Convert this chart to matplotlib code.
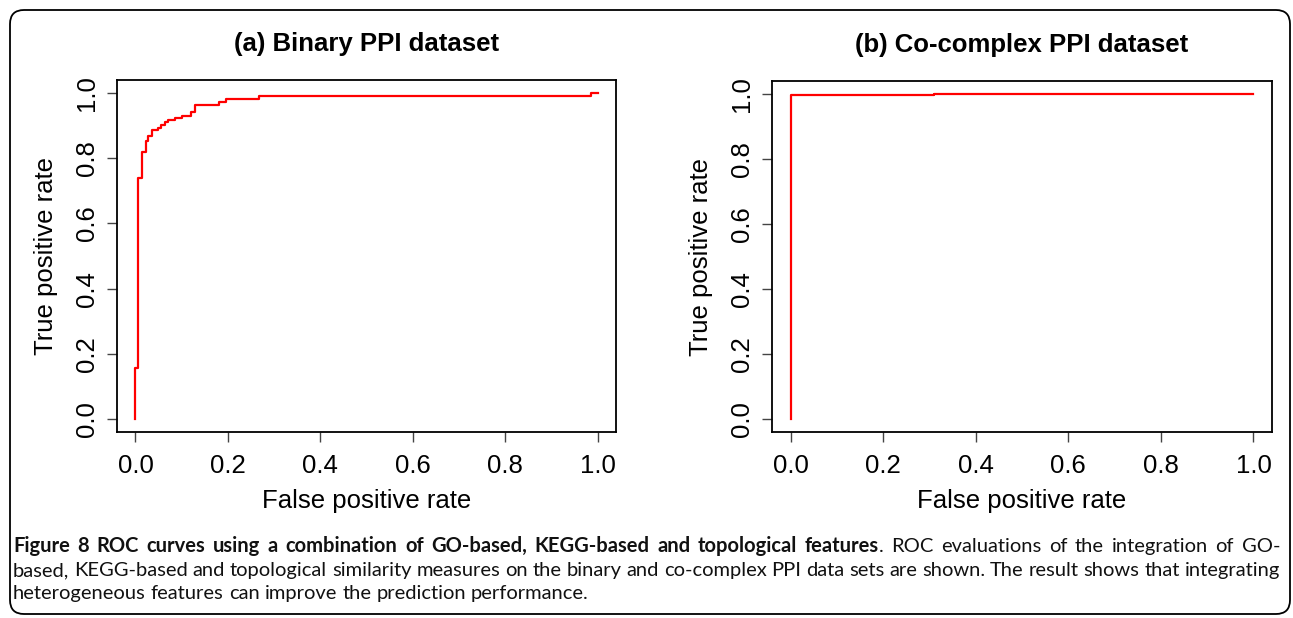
import matplotlib
matplotlib.use('Agg')
import matplotlib.pyplot as plt
import numpy as np
from matplotlib.patches import FancyBboxPatch
from matplotlib.transforms import IdentityTransform

# ROC curve (a) - corner points (steps-post)
fpr_a = [0.0, 0.0, 0.0065, 0.0137, 0.0217, 0.028, 0.0354, 0.0485, 0.0559, 0.063,
         0.0702, 0.0863, 0.1007, 0.121, 0.128, 0.181, 0.195, 0.267, 0.985, 1.0]
tpr_a = [0.0, 0.156, 0.740, 0.820, 0.853, 0.869, 0.887, 0.894, 0.902, 0.910,
         0.917, 0.924, 0.930, 0.941, 0.963, 0.973, 0.982, 0.991, 1.0, 1.0]

# ROC curve (b)
fpr_b = [0.0, 0.0, 0.31, 1.0]
tpr_b = [0.0, 0.997, 1.0, 1.0]

titles = ["(a) Binary PPI dataset", "(b) Co-complex PPI dataset"]
ticks = [0.0, 0.2, 0.4, 0.6, 0.8, 1.0]
tick_labels = ["0.0", "0.2", "0.4", "0.6", "0.8", "1.0"]

caption_lines = [
    [("Figure 8 ROC curves using a combination of GO-based, KEGG-based and topological features", "bold"),
     (". ROC evaluations of the integration of GO-", "normal")],
    [("based, KEGG-based and topological similarity measures on the binary and co-complex PPI "
      "data sets are shown. The result shows that integrating", "normal")],
    [("heterogeneous features can improve the prediction performance.", "normal")],
]

W, H = 1293, 618
fig = plt.figure(figsize=(W / 100, H / 100), dpi=100)
plt.rcParams['font.family'] = ['Liberation Sans', 'DejaVu Sans']


def px_box(l, t, r, b):
    return [l / W, 1 - b / H, (r - l) / W, (b - t) / H]


fs = 18.5
for box, fx, ty, title in [((117, 80, 616, 432), fpr_a, tpr_a, titles[0]),
                           ((772, 81, 1272, 432), fpr_b, tpr_b, titles[1])]:
    ax = fig.add_axes(px_box(*box))
    ax.plot(fx, ty, color='red', lw=1.6, drawstyle='steps-post')
    ax.set_xlim(-0.04, 1.04)
    ax.set_ylim(-0.04, 1.04)
    ax.set_xticks(ticks)
    ax.set_xticklabels(tick_labels)
    ax.set_yticks(ticks)
    ax.set_yticklabels(tick_labels, rotation=90, va='center')
    ax.tick_params(length=7, width=1, color='#444444', labelsize=fs)
    ax.tick_params(axis='x', pad=9)
    ax.tick_params(axis='y', pad=6)
    for s in ax.spines.values():
        s.set_linewidth(1.3)
    ax.set_title(title, fontsize=fs, fontweight='bold', pad=21)
    ax.set_xlabel("False positive rate", fontsize=fs, labelpad=8)
    ax.set_ylabel("True positive rate", fontsize=fs, labelpad=12)

# rounded frame around the figure
frame = FancyBboxPatch((10, H - 614), 1280, 604, boxstyle="round,pad=0,rounding_size=14",
                       transform=IdentityTransform(), fill=False, lw=1.3, ec='black')
fig.add_artist(frame)

# caption, justified word by word
renderer = fig.canvas.get_renderer()
cap_font = ['Lato', 'DejaVu Sans']


def text_width(s, size, weight):
    t = fig.text(0, 0, s, fontsize=size, fontweight=weight, family=cap_font)
    w = t.get_window_extent(renderer).width
    t.remove()
    return w


cap_size = 10 * 577 / text_width(caption_lines[2][0][0], 10, 'normal')
space_w = text_width("a a", cap_size, 'normal') - text_width("aa", cap_size, 'normal')

x_left, x_right = 13, 1280
baselines = [552, 576, 599]
for li, segs in enumerate(caption_lines):
    tokens = []
    for text, weight in segs:
        words = text.split(" ")
        for wi, w in enumerate(words):
            glue = (wi == 0 and len(tokens) > 0 and not text.startswith(" "))
            tokens.append((w, weight, glue))
    widths = [text_width(w, cap_size, wt) for w, wt, g in tokens]
    n_gaps = sum(1 for w, wt, g in tokens[1:] if not g)
    if li < 2:
        gap = (x_right - x_left - sum(widths)) / n_gaps
    else:
        gap = space_w
    x = x_left
    for (w, wt, g), wd in zip(tokens, widths):
        if x > x_left and not g:
            x += gap
        fig.text(x / W, 1 - baselines[li] / H, w, fontsize=cap_size, fontweight=wt,
                 family=cap_font, va='baseline', ha='left', color='#111111')
        x += wd

fig.savefig("out.png", dpi=100)
